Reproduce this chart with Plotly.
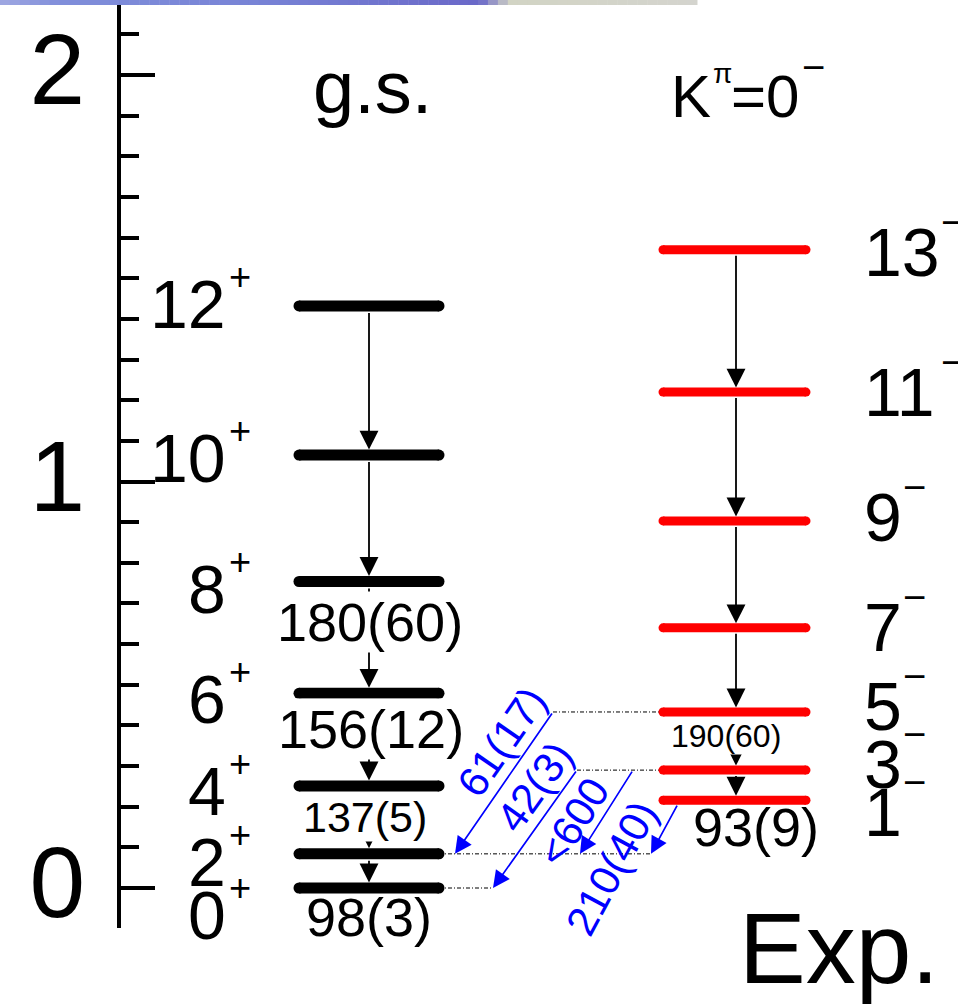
import math
import plotly.graph_objects as go

FONT = "Liberation Sans, Arial, Helvetica, sans-serif"

# ---------------- level scheme data ----------------
# ground-state band (positive parity), energies in MeV
gs_spin = [0, 2, 4, 6, 8, 10, 12]
gs_energy = [0.000, 0.084, 0.251, 0.479, 0.754, 1.065, 1.432]

# K^pi = 0^- band (negative parity), energies in MeV
oct_spin = [1, 3, 5, 7, 9, 11, 13]
oct_energy = [0.216, 0.290, 0.433, 0.640, 0.903, 1.220, 1.570]

# in-band transition strengths (W.u.), lowest transition first
gs_strength = ["98(3)", "137(5)", "156(12)", "180(60)"]   # 2->0, 4->2, 6->4, 8->6
oct_strength = ["93(9)", "190(60)"]                       # 3->1, 5->3

# interband transitions K=0- band -> g.s. band
inter_from = [5, 3, 3, 1]
inter_to = [2, 0, 2, 2]
inter_strength = ["61(17)", "42(3)", "<600", "210(40)"]

energy_ticks = [0, 1, 2]

# ---------------- drawing geometry ----------------
W, H = 958, 1005
PX_PER_MEV = 406.5
Y_TOP = 2.1845
Y_BOTTOM = -0.098
AXIS_LEFT = 121

gs_x0, gs_x1, gs_mid, gs_thick = 299, 439, 369, 11
oc_x0, oc_x1, oc_mid, oc_thick = 663, 806, 736, 9

gs_E = dict(zip(gs_spin, gs_energy))
oc_E = dict(zip(oct_spin, oct_energy))

# label offsets in px (positive = downward) relative to the level
gs_label_dy = [27, 8, 5, 6, 7, 3, -2]
oc_label_dy = [12, -6, -6, -1, -4, 0, 2]
LABEL_SIZE = 68
DIGIT_W = 0.556 * LABEL_SIZE

inter_x_tail = [553, 577, 633, 680]
inter_x_head = [455, 493, 580, 651]
inter_label_pos = [(501, 0.359), (535, 0.2485), (573, 0.162), (611, 0.049)]

fig = go.Figure()

# dotted connectors for interband transitions
for s in sorted(set(inter_from)):
    x_start = min(inter_x_tail[i] for i in range(len(inter_from)) if inter_from[i] == s)
    if x_start < oc_x0:
        fig.add_trace(go.Scatter(x=[x_start, oc_x0], y=[oc_E[s], oc_E[s]], mode="lines",
                                 line=dict(color="black", width=1, dash="4px,2px,1px,2px"),
                                 hoverinfo="skip", showlegend=False))
for s in sorted(set(inter_to)):
    x_end = max(inter_x_head[i] for i in range(len(inter_to)) if inter_to[i] == s)
    fig.add_trace(go.Scatter(x=[gs_x1, x_end], y=[gs_E[s], gs_E[s]], mode="lines",
                             line=dict(color="black", width=1, dash="4px,2px,1px,2px"),
                             hoverinfo="skip", showlegend=False))


def level_xy(x0, x1, energies):
    xs, ys = [], []
    for e in energies:
        xs += [x0, x1, None]
        ys += [e, e, None]
    return xs, ys


for x0, x1, en, col, th in [(gs_x0, gs_x1, gs_energy, "black", gs_thick),
                            (oc_x0, oc_x1, oct_energy, "#ff0000", oc_thick)]:
    xs, ys = level_xy(x0, x1, en)
    fig.add_trace(go.Scatter(x=xs, y=ys, mode="lines+markers",
                             line=dict(color=col, width=th),
                             marker=dict(color=col, size=th, line=dict(width=0)),
                             hoverinfo="skip", showlegend=False))

ann = []

# in-band cascade arrows
for en, xm, th in [(gs_energy, gs_mid, gs_thick), (oct_energy, oc_mid, oc_thick)]:
    for i in range(1, len(en)):
        ann.append(dict(x=xm, y=en[i - 1], ax=xm, ay=en[i], xref="x", yref="y",
                        axref="x", ayref="y", text="", showarrow=True, arrowhead=2,
                        arrowsize=2.1, arrowwidth=1.8, arrowcolor="black",
                        standoff=th / 2, startstandoff=th / 2))

# interband arrows and their labels
for i in range(len(inter_from)):
    e0, e1 = oc_E[inter_from[i]], gs_E[inter_to[i]]
    xt, xh = inter_x_tail[i], inter_x_head[i]
    ann.append(dict(x=xh, y=e1, ax=xt, ay=e0, xref="x", yref="y", axref="x", ayref="y",
                    text="", showarrow=True, arrowhead=2, arrowsize=2.0, arrowwidth=1.7,
                    arrowcolor="#0000ff", standoff=0,
                    startstandoff=oc_thick / 2 if oc_x0 <= xt <= oc_x1 else 0))
    ang = math.degrees(math.atan2((e0 - e1) * PX_PER_MEV, xt - xh))
    lx, ly = inter_label_pos[i]
    ann.append(dict(x=lx, y=ly, xref="x", yref="y", text=inter_strength[i], showarrow=False,
                    textangle=-ang, font=dict(family=FONT, size=42, color="#0000ff")))

# in-band strength labels; labels placed between two levels get a white box
# that hides the arrow shaft behind them
gs_str_pos = [(369, 0, -29, 54), (365, 1, 3, 43), (371, 2, 10.5, 54), (370, 3, 15.5, 54)]
for (xc, k, dy, fs), txt in zip(gs_str_pos, gs_strength):
    y = gs_energy[0] if k == 0 else (gs_energy[k] + gs_energy[k + 1]) / 2
    ann.append(dict(x=xc, y=y, yshift=dy, xref="x", yref="y", text=txt, showarrow=False,
                    bgcolor="white" if k > 0 else "rgba(0,0,0,0)", borderpad=0,
                    font=dict(family=FONT, size=fs, color="black")))
oc_str_pos = [(756, 0, -27, 54), (726, 1, 5, 32)]
for (xc, k, dy, fs), txt in zip(oc_str_pos, oct_strength):
    y = oct_energy[0] if k == 0 else (oct_energy[k] + oct_energy[k + 1]) / 2
    ann.append(dict(x=xc, y=y, yshift=dy, xref="x", yref="y", text=txt, showarrow=False,
                    bgcolor="white" if k > 0 else "rgba(0,0,0,0)", borderpad=0,
                    font=dict(family=FONT, size=fs, color="black")))

# spin-parity labels
for s, e, d in zip(gs_spin, gs_energy, gs_label_dy):
    ann.append(dict(x=228, y=e, yshift=-d, xref="x", yref="y", text=str(s), xanchor="right",
                    showarrow=False, font=dict(family=FONT, size=LABEL_SIZE, color="black")))
    ann.append(dict(x=227, y=e, yshift=-d + 27, xref="x", yref="y", text="+", xanchor="left",
                    showarrow=False, font=dict(family=FONT, size=38, color="black")))
for s, e, d in zip(oct_spin, oct_energy, oc_label_dy):
    ann.append(dict(x=862, y=e, yshift=-d, xref="x", yref="y", text=str(s), xanchor="left",
                    showarrow=False, font=dict(family=FONT, size=LABEL_SIZE, color="black")))
    ann.append(dict(x=862 + len(str(s)) * DIGIT_W + 1, y=e, yshift=-d + 30, xref="x", yref="y",
                    text="\u2212", xanchor="left", showarrow=False,
                    font=dict(family=FONT, size=40, color="black")))

# band titles
ann.append(dict(x=372, y=1.9695, xref="x", yref="y", text="g.s.", showarrow=False,
                font=dict(family=FONT, size=74, color="black")))
ann.append(dict(x=669, y=1.947, xref="x", yref="y", text="K", xanchor="left", showarrow=False,
                font=dict(family=FONT, size=60, color="black")))
ann.append(dict(x=711, y=2.003, xref="x", yref="y", text="\u03c0", xanchor="left", showarrow=False,
                font=dict(family=FONT, size=28, color="black")))
ann.append(dict(x=729, y=1.947, xref="x", yref="y", text="=0", xanchor="left", showarrow=False,
                font=dict(family=FONT, size=60, color="black")))
ann.append(dict(x=800, y=2.020, xref="x", yref="y", text="\u2212", xanchor="left", showarrow=False,
                font=dict(family=FONT, size=40, color="black")))
ann.append(dict(x=839 / W, y=1 - 948 / H, xref="paper", yref="paper", text="Exp.",
                xanchor="center", yanchor="middle",
                showarrow=False, font=dict(family=FONT, size=100, color="black")))

# slide header strip
strip_stops = [(0, (160, 168, 226)), (60, (128, 142, 218)), (250, (120, 132, 214)),
               (480, (106, 104, 200)), (510, (210, 212, 196)), (697, (212, 212, 206))]
shapes = []
n = 70
for j in range(n):
    xa = 697 * j / n
    xb = 697 * (j + 1) / n
    xm = (xa + xb) / 2
    for (p0, c0), (p1, c1) in zip(strip_stops[:-1], strip_stops[1:]):
        if p0 <= xm <= p1:
            t = (xm - p0) / (p1 - p0)
            c = tuple(int(round(c0[k] + t * (c1[k] - c0[k]))) for k in range(3))
            break
    shapes.append(dict(type="rect", xref="paper", yref="paper", x0=xa / W, x1=xb / W + 0.0005,
                       y0=1 - 5 / H, y1=1, line=dict(width=0), fillcolor="rgb(%d,%d,%d)" % c,
                       layer="above"))

fig.update_layout(
    width=W, height=H, margin=dict(l=0, r=0, t=0, b=0, autoexpand=False),
    paper_bgcolor="white", plot_bgcolor="white",
    showlegend=False, annotations=ann, shapes=shapes,
    xaxis=dict(domain=[AXIS_LEFT / W, 1], range=[AXIS_LEFT, W], visible=False,
               fixedrange=True, automargin=False),
    yaxis=dict(domain=[1 - (Y_TOP - Y_BOTTOM) * PX_PER_MEV / H, 1], range=[Y_BOTTOM, Y_TOP],
               automargin=False,
               showline=True, linewidth=4, linecolor="black", mirror=False,
               ticks="inside", ticklen=34, tickwidth=4, tickcolor="black",
               tickvals=energy_ticks, ticktext=[str(v) for v in energy_ticks],
               tickfont=dict(family=FONT, size=100, color="black"),
               ticklabelstandoff=12, ticklabelshift=-6,
               minor=dict(ticks="inside", ticklen=18, tickwidth=4, tickcolor="black",
                          dtick=0.1, tick0=0, showgrid=False),
               showgrid=False, zeroline=False, fixedrange=True),
)

fig.write_html("out.html")
